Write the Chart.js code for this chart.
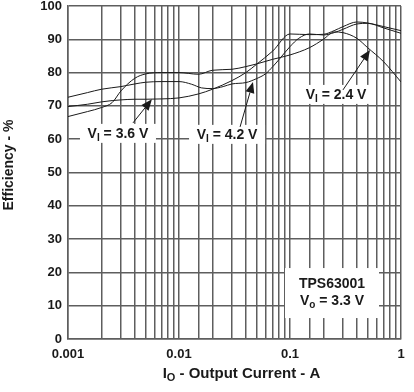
<!DOCTYPE html>
<html>
<head>
<meta charset="utf-8">
<script src="https://cdn.jsdelivr.net/npm/chart.js@4.4.0/dist/chart.umd.min.js"></script>
<style>
  html, body { margin: 0; padding: 0; background: #fff; }
</style>
</head>
<body>
<canvas id="effChart" width="414" height="392"></canvas>
<script>
// Output current (A) and efficiency (%)
const current24 = [0.001, 0.0015, 0.002, 0.0025, 0.003, 0.004, 0.005, 0.007, 0.01, 0.015, 0.02, 0.03, 0.04, 0.05, 0.07, 0.1, 0.15, 0.2, 0.25, 0.3, 0.4, 0.5, 0.7, 1];
const eff24     = [66.8, 68.3, 69.5, 71.0, 74.5, 78.3, 79.6, 80.0, 80.0, 79.5, 80.7, 81.0, 81.8, 82.6, 84.0, 85.3, 87.5, 90.0, 92.2, 92.0, 90.3, 87.5, 83.2, 77.2];

const current36 = [0.001, 0.0015, 0.002, 0.0025, 0.003, 0.004, 0.005, 0.007, 0.01, 0.015, 0.02, 0.03, 0.04, 0.05, 0.07, 0.1, 0.15, 0.2, 0.25, 0.3, 0.4, 0.5, 0.7, 1];
const eff36     = [69.8, 70.5, 71.2, 71.6, 71.8, 72.0, 72.0, 72.1, 72.4, 73.6, 75.0, 77.6, 80.0, 82.5, 86.5, 91.6, 91.4, 91.5, 92.6, 93.8, 95.2, 94.9, 93.8, 92.6];

const current42 = [0.001, 0.0015, 0.002, 0.003, 0.004, 0.005, 0.007, 0.01, 0.013, 0.016, 0.02, 0.025, 0.03, 0.04, 0.05, 0.06, 0.07, 0.08, 0.1, 0.12, 0.15, 0.2, 0.25, 0.3, 0.4, 0.5, 0.7, 1];
const eff42     = [72.6, 74.0, 75.0, 75.8, 76.6, 77.1, 77.3, 77.3, 76.5, 75.4, 75.2, 75.8, 76.6, 77.0, 78.2, 79.6, 81.8, 84.0, 87.8, 90.3, 91.6, 91.3, 92.0, 93.0, 94.6, 94.8, 93.4, 91.8];

const xTickLabels = ['0.001', '0.01', '0.1', '1'];
const yTicks = [0, 10, 20, 30, 40, 50, 60, 70, 80, 90, 100];

const FONT = '"Liberation Sans", Arial, sans-serif';
const GRID = '#5e5e5e';

function toPoints(xs, ys) {
    return xs.map((x, i) => ({ x: x, y: ys[i] }));
}

function curve(label, xs, ys) {
    return {
        label: label,
        data: toPoints(xs, ys),
        borderColor: '#1a1a1a',
        borderWidth: 1,
        pointRadius: 0,
        fill: false,
        cubicInterpolationMode: 'monotone'
    };
}

// Draw text made of normal and subscript pieces, centred on (cx, cy)
function drawParts(ctx, parts, cx, cy, size) {
    const subSize = Math.round(size * 0.7);
    let total = 0;
    const widths = parts.map(([t, sub]) => {
        ctx.font = `bold ${sub ? subSize : size}px ${FONT}`;
        const w = ctx.measureText(t).width;
        total += w;
        return w;
    });
    let x = cx - total / 2;
    ctx.textAlign = 'left';
    ctx.textBaseline = 'middle';
    parts.forEach(([t, sub], i) => {
        ctx.font = `bold ${sub ? subSize : size}px ${FONT}`;
        ctx.fillText(t, x, sub ? cy + size * 0.28 : cy);
        x += widths[i];
    });
    return total;
}

function drawArrow(ctx, x0, y0, x1, y1) {
    const ang = Math.atan2(y1 - y0, x1 - x0);
    const len = 11, half = 4.5;
    ctx.beginPath();
    ctx.moveTo(x0, y0);
    ctx.lineTo(x1 - Math.cos(ang) * len, y1 - Math.sin(ang) * len);
    ctx.strokeStyle = '#1a1a1a';
    ctx.lineWidth = 1;
    ctx.stroke();
    ctx.beginPath();
    ctx.moveTo(x1, y1);
    ctx.lineTo(x1 - Math.cos(ang) * len - Math.sin(ang) * half, y1 - Math.sin(ang) * len + Math.cos(ang) * half);
    ctx.lineTo(x1 - Math.cos(ang) * len + Math.sin(ang) * half, y1 - Math.sin(ang) * len - Math.cos(ang) * half);
    ctx.closePath();
    ctx.fillStyle = '#1a1a1a';
    ctx.fill();
}

// Curve labels: text anchor and arrow in data space
const curveNotes = [
    { v: '3.6 V', at: [0.00282, 61.6], from: [0.00385, 64.9], to: [0.0057, 72.0] },
    { v: '4.2 V', at: [0.0271, 61.3], from: [0.0355, 63.7], to: [0.0464, 77.2] },
    { v: '2.4 V', at: [0.26, 73.3], from: [0.30, 74.8], to: [0.526, 86.8] }
];

const notesPlugin = {
    id: 'notes',
    afterDatasetsDraw(chart) {
        const { ctx, scales: { x, y } } = chart;
        ctx.save();
        curveNotes.forEach(n => {
            const cx = x.getPixelForValue(n.at[0]);
            const cy = y.getPixelForValue(n.at[1]);
            const parts = [['V', false], ['I', true], [' = ' + n.v, false]];
            ctx.fillStyle = '#fff';
            ctx.fillRect(cx - 38, cy - 10, 76, 19);
            ctx.fillStyle = '#1a1a1a';
            drawParts(ctx, parts, cx, cy, 14);
            drawArrow(ctx, x.getPixelForValue(n.from[0]), y.getPixelForValue(n.from[1]),
                x.getPixelForValue(n.to[0]), y.getPixelForValue(n.to[1]));
        });

        // device box
        const bx = x.getPixelForValue(0.239);
        const by = y.getPixelForValue(13.8);
        ctx.fillStyle = '#fff';
        ctx.fillRect(bx - 47, by - 25, 94, 50);
        ctx.fillStyle = '#1a1a1a';
        drawParts(ctx, [['TPS63001', false]], bx, by - 9, 14);
        drawParts(ctx, [['V', false], ['o', true], [' = 3.3 V', false]], bx, by + 8, 14);
        ctx.restore();
    },
    afterDraw(chart) {
        const { ctx, chartArea } = chart;
        ctx.save();
        ctx.fillStyle = '#1a1a1a';
        // x axis title
        drawParts(ctx, [['I', false], ['O', true], [' - Output Current - A', false]],
            (chartArea.left + chartArea.right) / 2 + 7, 374, 15);
        // y axis title
        ctx.translate(9, 165);
        ctx.rotate(-Math.PI / 2);
        drawParts(ctx, [['Efficiency - %', false]], 0, 0, 14);
        ctx.restore();
    }
};

const effChart = new Chart(document.getElementById('effChart').getContext('2d'), {
    type: 'line',
    data: {
        datasets: [
            curve('VI = 2.4 V', current24, eff24),
            curve('VI = 3.6 V', current36, eff36),
            curve('VI = 4.2 V', current42, eff42)
        ]
    },
    options: {
        responsive: false,
        animation: false,
        events: [],
        layout: { padding: { top: 6, right: 13, left: 0, bottom: 0 } },
        plugins: {
            legend: { display: false },
            tooltip: { enabled: false }
        },
        scales: {
            x: {
                type: 'logarithmic',
                min: 0.001,
                max: 1,
                afterFit(scale) {
                    scale.height = 53;
                    scale.paddingLeft = 0;
                    scale.paddingRight = 0;
                },
                grid: { color: GRID, lineWidth: 1.5, drawTicks: false },
                border: { color: GRID, width: 1.5 },
                ticks: {
                    autoSkip: false,
                    maxRotation: 0,
                    padding: 8,
                    color: '#1a1a1a',
                    font: { family: FONT, size: 13, weight: 'bold' },
                    callback(value) {
                        const e = Math.log10(value);
                        if (Math.abs(e - Math.round(e)) > 1e-6) return '';
                        return xTickLabels[Math.round(e) + 3];
                    }
                }
            },
            y: {
                min: yTicks[0],
                max: yTicks[yTicks.length - 1],
                afterFit(scale) {
                    scale.width = 68;
                    scale.paddingTop = 0;
                    scale.paddingBottom = 0;
                },
                afterBuildTicks(scale) { scale.ticks = yTicks.map(v => ({ value: v })); },
                grid: { color: GRID, lineWidth: 1.5, drawTicks: false },
                border: { color: GRID, width: 1.5 },
                ticks: {
                    padding: 6,
                    color: '#1a1a1a',
                    font: { family: FONT, size: 13, weight: 'bold' }
                }
            }
        }
    },
    plugins: [notesPlugin]
});
</script>
</body>
</html>
